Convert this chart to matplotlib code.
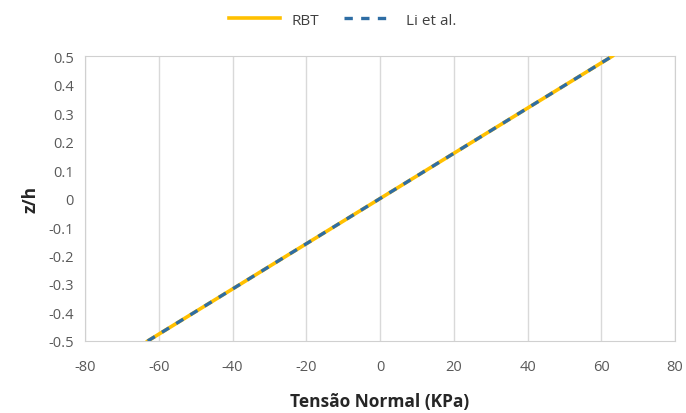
import matplotlib.pyplot as plt

# dados
z_h = [-0.5, -0.4, -0.3, -0.2, -0.1, 0.0, 0.1, 0.2, 0.3, 0.4, 0.5]
tensao_rbt = [-63.0, -50.4, -37.8, -25.2, -12.6, 0.0, 12.6, 25.2, 37.8, 50.4, 63.0]
tensao_li = [-63.0, -50.4, -37.8, -25.2, -12.6, 0.0, 12.6, 25.2, 37.8, 50.4, 63.0]

x_ticks = [-80, -60, -40, -20, 0, 20, 40, 60, 80]
y_ticks = [-0.5, -0.4, -0.3, -0.2, -0.1, 0, 0.1, 0.2, 0.3, 0.4, 0.5]
y_labels = ['-0.5', '-0.4', '-0.3', '-0.2', '-0.1', '0', '0.1', '0.2', '0.3', '0.4', '0.5']

plt.rcParams['font.family'] = ['Open Sans', 'DejaVu Sans']
plt.rcParams['axes.unicode_minus'] = False

fig = plt.figure(figsize=(6.86, 4.14), dpi=100)
ax = fig.add_axes([0.124, 0.174, 0.86, 0.688])

ax.plot(tensao_rbt, z_h, color='#FFC000', lw=2.6, label='RBT', zorder=3)
ax.plot(tensao_li, z_h, color='#2E6DA4', lw=2.4, ls=(0, (2.5, 2.5)), label='Li et al.', zorder=4)

ax.set_xlim(-80, 80)
ax.set_ylim(-0.5, 0.5)
ax.set_xticks(x_ticks)
ax.set_yticks(y_ticks)
ax.set_yticklabels(y_labels)
ax.tick_params(length=0, labelsize=10.5, labelcolor='#595959')
ax.tick_params(axis='x', pad=13)
ax.tick_params(axis='y', pad=8)
ax.grid(axis='x', color='#d9d9d9', lw=1)
for s in ax.spines.values():
    s.set_color('#d0d0d0')

ax.set_xlabel('Tensão Normal (KPa)', fontsize=12.5, fontweight='bold', color='#262626', labelpad=13)
ax.set_ylabel('z/h', fontsize=12.5, fontweight='bold', color='#262626', labelpad=6)

fig.legend(loc='upper center', bbox_to_anchor=(0.5, 1.0), ncol=2, frameon=False,
           fontsize=11, labelcolor='#404040', handlelength=3.3, columnspacing=1.6)

fig.savefig('out.png', dpi=100)
